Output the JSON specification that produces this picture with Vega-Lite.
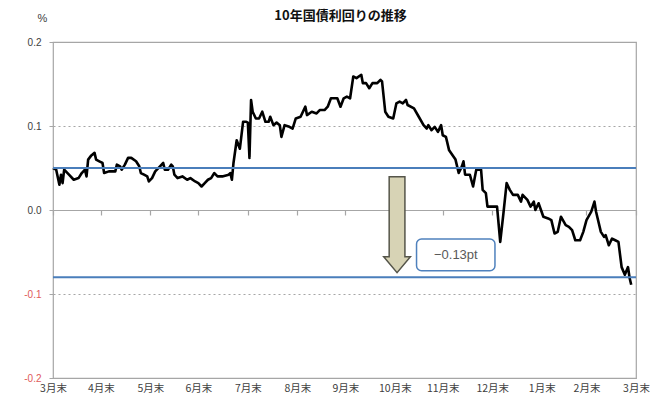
{
  "$schema": "https://vega.github.io/schema/vega-lite/v6.json",
  "width": 583,
  "height": 336,
  "autosize": {"type": "none"},
  "padding": {"left": 53, "top": 42, "right": 27, "bottom": 24},
  "background": "white",
  "title": {"text": "10年国債利回りの推移", "font": "Noto Sans CJK JP", "fontSize": 13, "fontWeight": "bold", "color": "#111111", "anchor": "middle", "offset": -11, "dx": -4},
  "config": {"view": {"stroke": "#a6a6a6", "strokeWidth": 1.2}, "font": "Liberation Sans"},
  "datasets": {
    "jgb": [
      {"day":0,"v":0.050},{"day":2,"v":0.048},{"day":4,"v":0.030},{"day":5,"v":0.042},{"day":6,"v":0.032},{"day":7,"v":0.048},{"day":10,"v":0.042},{"day":13,"v":0.036},{"day":16,"v":0.038},{"day":18,"v":0.044},{"day":20,"v":0.048},{"day":21,"v":0.040},{"day":22,"v":0.060},{"day":24,"v":0.065},{"day":26,"v":0.068},{"day":27,"v":0.060},{"day":29,"v":0.058},{"day":31,"v":0.056},{"day":32,"v":0.044},{"day":35,"v":0.046},{"day":39,"v":0.046},{"day":40,"v":0.054},{"day":42,"v":0.052},{"day":43,"v":0.048},{"day":45,"v":0.054},{"day":47,"v":0.062},{"day":49,"v":0.062},{"day":52,"v":0.058},{"day":54,"v":0.052},{"day":55,"v":0.044},{"day":57,"v":0.042},{"day":59,"v":0.040},{"day":60,"v":0.034},{"day":62,"v":0.038},{"day":64,"v":0.046},{"day":67,"v":0.052},{"day":69,"v":0.056},{"day":70,"v":0.048},{"day":72,"v":0.048},{"day":74,"v":0.054},{"day":75,"v":0.052},{"day":76,"v":0.042},{"day":78,"v":0.038},{"day":81,"v":0.040},{"day":84,"v":0.036},{"day":86,"v":0.038},{"day":89,"v":0.034},{"day":91,"v":0.032},{"day":93,"v":0.028},{"day":95,"v":0.032},{"day":97,"v":0.036},{"day":99,"v":0.038},{"day":101,"v":0.044},{"day":103,"v":0.040},{"day":106,"v":0.040},{"day":110,"v":0.042},{"day":111,"v":0.044},{"day":112,"v":0.036},{"day":113,"v":0.056},{"day":115,"v":0.083},{"day":117,"v":0.073},{"day":119,"v":0.105},{"day":121,"v":0.105},{"day":122,"v":0.104},{"day":123,"v":0.062},{"day":124,"v":0.131},{"day":125,"v":0.117},{"day":127,"v":0.109},{"day":129,"v":0.109},{"day":131,"v":0.117},{"day":133,"v":0.105},{"day":135,"v":0.105},{"day":136,"v":0.111},{"day":138,"v":0.101},{"day":140,"v":0.104},{"day":142,"v":0.101},{"day":143,"v":0.087},{"day":145,"v":0.101},{"day":148,"v":0.099},{"day":150,"v":0.097},{"day":152,"v":0.109},{"day":155,"v":0.111},{"day":158,"v":0.123},{"day":159,"v":0.113},{"day":162,"v":0.117},{"day":165,"v":0.115},{"day":167,"v":0.119},{"day":170,"v":0.119},{"day":172,"v":0.123},{"day":174,"v":0.133},{"day":178,"v":0.133},{"day":180,"v":0.123},{"day":182,"v":0.133},{"day":184,"v":0.135},{"day":186,"v":0.133},{"day":188,"v":0.159},{"day":190,"v":0.157},{"day":193,"v":0.161},{"day":194,"v":0.151},{"day":196,"v":0.151},{"day":198,"v":0.145},{"day":200,"v":0.151},{"day":203,"v":0.151},{"day":205,"v":0.155},{"day":206,"v":0.153},{"day":208,"v":0.117},{"day":210,"v":0.111},{"day":213,"v":0.109},{"day":215,"v":0.127},{"day":217,"v":0.129},{"day":219,"v":0.127},{"day":221,"v":0.131},{"day":222,"v":0.125},{"day":226,"v":0.121},{"day":229,"v":0.111},{"day":232,"v":0.101},{"day":234,"v":0.097},{"day":235,"v":0.101},{"day":237,"v":0.095},{"day":239,"v":0.099},{"day":241,"v":0.093},{"day":243,"v":0.101},{"day":244,"v":0.089},{"day":246,"v":0.087},{"day":248,"v":0.071},{"day":252,"v":0.060},{"day":254,"v":0.044},{"day":256,"v":0.052},{"day":257,"v":0.058},{"day":258,"v":0.042},{"day":261,"v":0.042},{"day":263,"v":0.028},{"day":264,"v":0.038},{"day":265,"v":0.048},{"day":268,"v":0.048},{"day":269,"v":0.024},{"day":271,"v":0.020},{"day":272,"v":0.004},{"day":278,"v":0.004},{"day":280,"v":-0.038},{"day":282,"v":-0.004},{"day":284,"v":0.032},{"day":286,"v":0.024},{"day":288,"v":0.018},{"day":291,"v":0.018},{"day":293,"v":0.010},{"day":294,"v":0.018},{"day":297,"v":0.012},{"day":299,"v":0.004},{"day":301,"v":0.010},{"day":302,"v":0.000},{"day":304,"v":0.008},{"day":307,"v":-0.008},{"day":310,"v":-0.010},{"day":312,"v":-0.012},{"day":314,"v":-0.028},{"day":316,"v":-0.026},{"day":318,"v":-0.008},{"day":321,"v":-0.018},{"day":323,"v":-0.020},{"day":325,"v":-0.024},{"day":327,"v":-0.036},{"day":330,"v":-0.036},{"day":332,"v":-0.026},{"day":334,"v":-0.012},{"day":337,"v":-0.002},{"day":339,"v":0.010},{"day":340,"v":-0.002},{"day":343,"v":-0.026},{"day":345,"v":-0.032},{"day":346,"v":-0.030},{"day":348,"v":-0.042},{"day":350,"v":-0.034},{"day":352,"v":-0.036},{"day":354,"v":-0.038},{"day":356,"v":-0.068},{"day":358,"v":-0.077},{"day":360,"v":-0.068},{"day":361,"v":-0.081},{"day":362,"v":-0.089}
    ],
    "levels": [{"v": 0.05}, {"v": -0.08}],
    "arrow": [{"day": 215.4, "v": -0.0175}],
    "box": [{"day": 227.6, "day2": 276.7, "v": -0.0345, "v2": -0.0723, "mid": 252.2, "vm": -0.0536, "label": "−0.13pt"}]
  },
  "layer": [
    {
      "data": {"name": "jgb"},
      "mark": {"type": "line", "color": "#000000", "strokeWidth": 2.6, "strokeJoin": "round"},
      "encoding": {
        "x": {"field": "day", "type": "quantitative", "scale": {"domain": [0, 365], "nice": false, "zero": false},
          "axis": {"orient": "bottom", "title": null, "values": [0,30,61,91,122,153,183,214,244,275,306,334,365],
            "labelExpr": "['3月末','4月末','5月末','6月末','7月末','8月末','9月末','10月末','11月末','12月末','1月末','2月末','3月末'][indexof([0,30,61,91,122,153,183,214,244,275,306,334,365], datum.value)]",
            "ticks": false, "domain": false, "grid": false, "labelPadding": 5, "labelFont": "Noto Sans CJK JP", "labelFontSize": 10.5, "labelColor": "#404040", "labelFlush": false}},
        "y": {"field": "v", "type": "quantitative", "scale": {"domain": [-0.2, 0.2], "nice": false, "zero": false},
          "axis": {"title": "%", "titleAngle": 0, "titleX": -11, "titleY": -24, "titleAlign": "center", "titleBaseline": "middle", "titleFontSize": 11, "titleFontWeight": "normal", "titleColor": "#404040",
            "values": [-0.2, -0.1, 0, 0.1, 0.2], "labelExpr": "replace(format(datum.value, '.1f'), '−', '-')",
            "labelColor": {"condition": {"test": "datum.value < 0", "value": "#e05a5a"}, "value": "#404040"},
            "labelFontSize": 10, "labelPadding": 8, "domain": false, "ticks": true, "tickSize": 4, "tickColor": "#a6a6a6",
            "grid": true, "gridColor": "#a6a6a6", "gridWidth": 1.2,
            "gridDash": {"condition": {"test": "abs(datum.value) > 0.15 || datum.value == 0", "value": []}, "value": [2, 3]}}}
      }
    },
    {
      "data": {"name": "box"},
      "mark": {"type": "rect", "fill": "white", "stroke": "#4f81bd", "strokeWidth": 1.5, "cornerRadius": 5},
      "encoding": {
        "x": {"field": "day", "type": "quantitative", "scale": {"domain": [0, 365], "nice": false, "zero": false},
          "axis": {"orient": "bottom", "offset": -168, "title": null, "labels": false, "values": [0,30,61,91,122,153,183,214,244,275,306,334,365], "ticks": true, "tickSize": 5, "tickColor": "#a6a6a6", "tickWidth": 1.2, "domain": true, "domainColor": "#a6a6a6", "domainWidth": 1.2, "grid": false}},
        "x2": {"field": "day2"},
        "y": {"field": "v", "type": "quantitative", "scale": {"domain": [-0.2, 0.2], "nice": false, "zero": false}},
        "y2": {"field": "v2"}
      }
    },
    {
      "data": {"name": "box"},
      "mark": {"type": "text", "fontSize": 13, "color": "#595959", "font": "Liberation Sans", "align": "center", "baseline": "middle"},
      "encoding": {
        "x": {"field": "mid", "type": "quantitative", "scale": {"domain": [0, 365], "nice": false, "zero": false}, "axis": null},
        "y": {"field": "vm", "type": "quantitative", "scale": {"domain": [-0.2, 0.2], "nice": false, "zero": false}},
        "text": {"field": "label"}
      }
    },
    {
      "data": {"name": "arrow"},
      "mark": {"type": "point", "shape": "M-0.164,-1L0.164,-1L0.164,0.667L0.278,0.667L0,1L-0.278,0.667L-0.164,0.667Z", "size": 9216, "filled": true, "fill": "#d7d3b5", "stroke": "#55554a", "strokeWidth": 1.5, "opacity": 1},
      "encoding": {
        "x": {"field": "day", "type": "quantitative", "scale": {"domain": [0, 365], "nice": false, "zero": false}, "axis": null},
        "y": {"field": "v", "type": "quantitative", "scale": {"domain": [-0.2, 0.2], "nice": false, "zero": false}}
      }
    },
    {
      "data": {"name": "levels"},
      "mark": {"type": "rule", "color": "#4a7ebb", "strokeWidth": 2},
      "encoding": {
        "y": {"field": "v", "type": "quantitative", "scale": {"domain": [-0.2, 0.2], "nice": false, "zero": false}}
      }
    }
  ],
  "resolve": {"axis": {"x": "independent"}}
}
